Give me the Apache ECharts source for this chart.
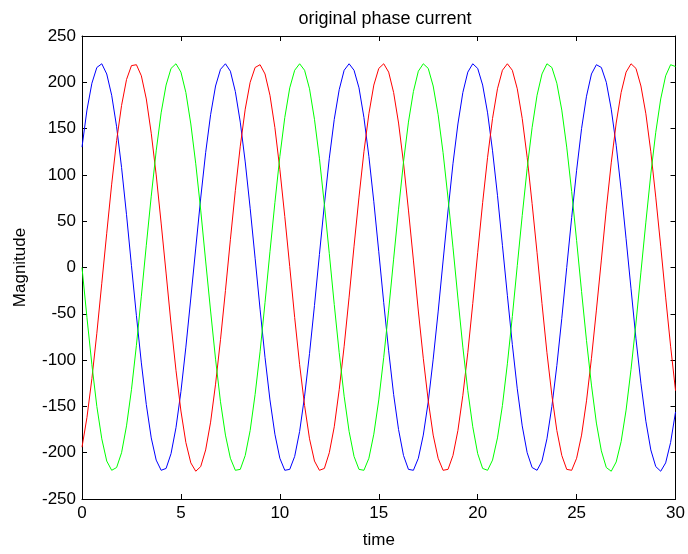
<!DOCTYPE html>
<html>
<head>
<meta charset="utf-8">
<title>original phase current</title>
<script src="https://cdn.jsdelivr.net/npm/echarts@6/dist/echarts.min.js"></script>
<style>
	html, body { margin: 0; padding: 0; background: #fff; }
	#chart { width: 688px; height: 554px; }
</style>
</head>
<body>
<div id="chart"></div>
<script>
// sample times (s)
var time = [
	0, 0.25, 0.5, 0.75, 1, 1.25, 1.5, 1.75, 2, 2.25,
	2.5, 2.75, 3, 3.25, 3.5, 3.75, 4, 4.25, 4.5, 4.75,
	5, 5.25, 5.5, 5.75, 6, 6.25, 6.5, 6.75, 7, 7.25,
	7.5, 7.75, 8, 8.25, 8.5, 8.75, 9, 9.25, 9.5, 9.75,
	10, 10.25, 10.5, 10.75, 11, 11.25, 11.5, 11.75, 12, 12.25,
	12.5, 12.75, 13, 13.25, 13.5, 13.75, 14, 14.25, 14.5, 14.75,
	15, 15.25, 15.5, 15.75, 16, 16.25, 16.5, 16.75, 17, 17.25,
	17.5, 17.75, 18, 18.25, 18.5, 18.75, 19, 19.25, 19.5, 19.75,
	20, 20.25, 20.5, 20.75, 21, 21.25, 21.5, 21.75, 22, 22.25,
	22.5, 22.75, 23, 23.25, 23.5, 23.75, 24, 24.25, 24.5, 24.75,
	25, 25.25, 25.5, 25.75, 26, 26.25, 26.5, 26.75, 27, 27.25,
	27.5, 27.75, 28, 28.25, 28.5, 28.75, 29, 29.25, 29.5, 29.75,
	30
];

// phase currents, blue / red / green
var phaseBlue = [
	130, 170, 199, 216, 220, 209, 186, 152, 108, 57,
	2, -52, -103, -148, -184, -208, -219, -217, -201, -173,
	-134, -86, -33, 21, 75, 124, 165, 196, 214, 220,
	212, 190, 157, 114, 64, 10, -45, -97, -143, -180,
	-206, -219, -218, -204, -177, -139, -93, -41, 14, 68,
	118, 160, 192, 213, 220, 213, 194, 162, 120, 71,
	17, -38, -90, -137, -175, -203, -218, -219, -206, -181,
	-145, -99, -48, 7, 61, 112, 155, 189, 211, 220,
	215, 197, 167, 126, 78, 24, -30, -83, -131, -171,
	-200, -216, -219, -209, -185, -150, -106, -55, 0, 54,
	105, 150, 185, 209, 219, 216, 200, 171, 132, 84,
	31, -23, -77, -125, -166, -197, -215, -220, -211, -189,
	-156
];

var phaseRed = [
	-194, -162, -120, -71, -17, 37, 90, 137, 175, 203,
	218, 219, 207, 182, 145, 100, 48, -6, -61, -111,
	-155, -189, -211, -220, -215, -197, -167, -126, -78, -25,
	30, 83, 131, 171, 200, 216, 219, 209, 186, 151,
	106, 55, 1, -54, -105, -149, -185, -209, -219, -217,
	-200, -172, -132, -85, -32, 23, 76, 125, 166, 197,
	215, 220, 211, 189, 156, 113, 62, 8, -47, -98,
	-144, -181, -206, -219, -218, -203, -176, -138, -92, -39,
	16, 70, 119, 161, 193, 213, 220, 213, 193, 161,
	119, 69, 16, -39, -92, -138, -176, -203, -218, -219,
	-206, -181, -144, -98, -46, 8, 63, 113, 156, 189,
	211, 220, 215, 196, 166, 125, 76, 23, -32, -85,
	-133
];

var phaseGreen = [
	0, -54, -105, -150, -185, -209, -219, -216, -200, -171,
	-132, -84, -31, 24, 77, 126, 167, 197, 215, 220,
	211, 189, 155, 112, 62, 7, -47, -99, -145, -181,
	-206, -219, -218, -203, -176, -137, -91, -38, 17, 70,
	120, 162, 194, 213, 220, 213, 193, 160, 118, 68,
	15, -40, -92, -139, -177, -204, -218, -219, -206, -180,
	-143, -97, -46, 9, 63, 114, 157, 190, 212, 220,
	215, 196, 165, 124, 75, 22, -33, -86, -133, -172,
	-201, -217, -219, -208, -184, -149, -104, -53, 2, 56,
	107, 151, 186, 209, 220, 216, 199, 170, 130, 82,
	29, -26, -79, -127, -168, -198, -216, -220, -210, -188,
	-154, -110, -60, -5, 49, 101, 146, 182, 207, 219,
	217
];

var xTicks = { min: 0, max: 30, step: 5 };
var yTicks = { min: -250, max: 250, step: 50 };

function pairs(values) {
	return values.map(function(v, i) {
		return [time[i], v];
	});
}

var chart = echarts.init(document.getElementById('chart'), null, { renderer: 'canvas' });

var fontFamily = 'Liberation Sans, Arial, Helvetica, sans-serif';
var axisColor = '#000';

function lineSeries(name, color, values) {
	return {
		name: name,
		type: 'line',
		data: pairs(values),
		showSymbol: false,
		smooth: false,
		lineStyle: { color: color, width: 1 },
		itemStyle: { color: color },
		animation: false
	};
}

var option = {
	backgroundColor: '#fff',
	animation: false,
	title: {
		text: 'original phase current',
		left: 380,
		top: 5,
		textAlign: 'center',
		textStyle: { fontFamily: fontFamily, fontSize: 18, fontWeight: 'normal', color: '#000' }
	},
	grid: { left: 82, right: 9, top: 36, bottom: 49, containLabel: false },
	xAxis: [{
		type: 'value',
		min: xTicks.min,
		max: xTicks.max,
		interval: xTicks.step,
		name: 'time',
		nameLocation: 'middle',
		nameGap: 33,
		nameTextStyle: { fontFamily: fontFamily, fontSize: 17, color: '#000' },
		axisLine: { onZero: false, lineStyle: { color: axisColor, width: 1 } },
		axisTick: { inside: true, length: 5, lineStyle: { color: axisColor } },
		axisLabel: { fontFamily: fontFamily, fontSize: 17, color: '#000', margin: 6 },
		splitLine: { show: false }
	}, {
		type: 'value',
		position: 'top',
		min: xTicks.min,
		max: xTicks.max,
		interval: xTicks.step,
		axisLine: { onZero: false, lineStyle: { color: axisColor, width: 1 } },
		axisTick: { inside: true, length: 5, lineStyle: { color: axisColor } },
		axisLabel: { show: false },
		splitLine: { show: false }
	}],
	yAxis: [{
		type: 'value',
		min: yTicks.min,
		max: yTicks.max,
		interval: yTicks.step,
		name: 'Magnitude',
		nameLocation: 'middle',
		nameGap: 53,
		nameTextStyle: { fontFamily: fontFamily, fontSize: 17, color: '#000' },
		axisLine: { onZero: false, lineStyle: { color: axisColor, width: 1 } },
		axisTick: { inside: true, length: 5, lineStyle: { color: axisColor } },
		axisLabel: { fontFamily: fontFamily, fontSize: 17, color: '#000', margin: 6 },
		splitLine: { show: false }
	}, {
		type: 'value',
		position: 'right',
		min: yTicks.min,
		max: yTicks.max,
		interval: yTicks.step,
		axisLine: { onZero: false, lineStyle: { color: axisColor, width: 1 } },
		axisTick: { inside: true, length: 5, lineStyle: { color: axisColor } },
		axisLabel: { show: false },
		splitLine: { show: false }
	}],
	series: [
		lineSeries('phase a', '#0000ff', phaseBlue),
		lineSeries('phase b', '#ff0000', phaseRed),
		lineSeries('phase c', '#00ff00', phaseGreen)
	]
};

chart.setOption(option);
</script>
</body>
</html>
